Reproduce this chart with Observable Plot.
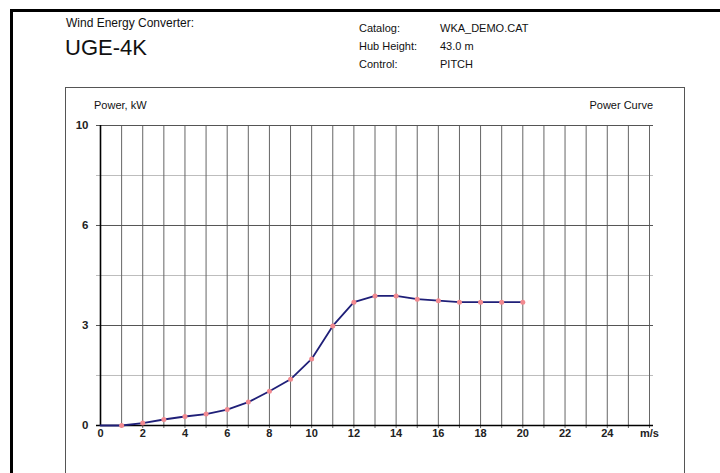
<!DOCTYPE html>
<html><head><meta charset="utf-8">
<script src="https://cdn.jsdelivr.net/npm/d3@7"></script>
<script src="https://cdn.jsdelivr.net/npm/@observablehq/plot@0.6"></script>
<style>
body{margin:0;background:#fff;font-family:"Liberation Sans",Arial,sans-serif;}
#page{position:relative;width:720px;height:473px;overflow:hidden;background:#fff;}
.t{position:absolute;white-space:nowrap;color:#111;line-height:1;}
#chart{position:absolute;left:0;top:0;}
</style></head><body>
<div id="page">
  <div style="position:absolute;left:10px;top:9px;width:710px;height:3px;background:#000"></div>
  <div style="position:absolute;left:10px;top:9px;width:3px;height:464px;background:#000"></div>
  <div style="position:absolute;left:65px;top:87px;width:618px;height:430px;border:1.5px solid #555"></div>
  <div id="chart"></div>
</div>
<script>
// ---- data ----
const speeds = [0, 1, 2, 3, 4, 5, 6, 7, 8, 9, 10, 11, 12, 13, 14, 15, 16, 17, 18, 19, 20];
const power  = [0, 0, 0.08, 0.2, 0.3, 0.38, 0.53, 0.78, 1.14, 1.54, 2.22, 3.32, 4.11, 4.32, 4.32, 4.21, 4.16, 4.11, 4.11, 4.11, 4.11];
const xTicks = [0, 2, 4, 6, 8, 10, 12, 14, 16, 18, 20, 22, 24, 26];
const xTickLabels = ["0", "2", "4", "6", "8", "10", "12", "14", "16", "18", "20", "22", "24", "m/s"];
const xGrid = [1, 2, 3, 4, 5, 6, 7, 8, 9, 10, 11, 12, 13, 14, 15, 16, 17, 18, 19, 20, 21, 22, 23, 24, 25, 26];
const yTicks = [0, 3.333, 6.667, 10];
const yTickLabels = ["0", "3", "6", "10"];
const yMajorGrid = [3.333, 6.667, 10];
const yMinorGrid = [1.667, 5, 8.333];
const headerLeftLabel = "Wind Energy Converter:";
const headerName = "UGE-4K";
const infoLabels = ["Catalog:", "Hub Height:", "Control:"];
const infoValues = ["WKA_DEMO.CAT", "43.0 m", "PITCH"];
const yTitle = "Power, kW";
const chartTitle = "Power Curve";

// ---- header text ----
const page = document.getElementById("page");
function addText(str, x, baseline, size, opts = {}) {
  const d = document.createElement("div");
  d.className = "t";
  d.textContent = str;
  d.style.fontSize = size + "px";
  d.style.top = (baseline - 0.85 * size) + "px";
  if (opts.right != null) d.style.right = opts.right + "px"; else d.style.left = x + "px";
  if (opts.weight) d.style.fontWeight = opts.weight;
  page.appendChild(d);
}
addText(headerLeftLabel, 66, 27, 12);
addText(headerName, 65, 56, 22);
infoLabels.forEach((s, i) => addText(s, 359, 32 + i * 18, 11));
infoValues.forEach((s, i) => addText(s, 440, 32 + i * 18, 11));
addText(yTitle, 94, 109, 11);
addText(chartTitle, 0, 109, 11, {right: 720 - 653});

// ---- chart ----
const rows = speeds.map((s, i) => ({speed: s, power: power[i]}));
const chart = Plot.plot({
  width: 720, height: 473,
  marginLeft: 100, marginRight: 71, marginTop: 125, marginBottom: 48,
  style: {background: "transparent", fontFamily: "'Liberation Sans', Arial, sans-serif"},
  x: {domain: [0, 26], axis: null},
  y: {domain: [0, 10], axis: null},
  marks: [
    Plot.ruleY(yMinorGrid, {stroke: "#bdbdbd", strokeWidth: 1, insetLeft: -4, insetRight: -4}),
    Plot.ruleX(xGrid, {stroke: "#666", strokeWidth: 1, insetBottom: -3}),
    Plot.ruleY(yMajorGrid, {stroke: "#555", strokeWidth: 1, insetLeft: -4, insetRight: -4}),
    Plot.ruleX([0], {stroke: "#000", strokeWidth: 1.6}),
    Plot.ruleY([0], {stroke: "#000", strokeWidth: 1.6, insetLeft: -4, insetRight: -4}),
    Plot.line(rows, {x: "speed", y: "power", stroke: "#1f1f78", strokeWidth: 1.8}),
    Plot.dot(rows.filter(d => d.speed > 0), {x: "speed", y: "power", r: 2.5, fill: "#f28a90", stroke: "none"}),
    Plot.text(xTicks, {x: d => d, frameAnchor: "bottom", dy: 11, text: (d, i) => xTickLabels[i], fontSize: 11, fontWeight: "bold", fill: "#222"}),
    Plot.text(yTicks, {y: d => d, frameAnchor: "left", dx: -12, textAnchor: "end", text: (d, i) => yTickLabels[i], fontSize: 11.5, fontWeight: "bold", fill: "#222"})
  ]
});
document.getElementById("chart").appendChild(chart);
</script>
</body></html>
